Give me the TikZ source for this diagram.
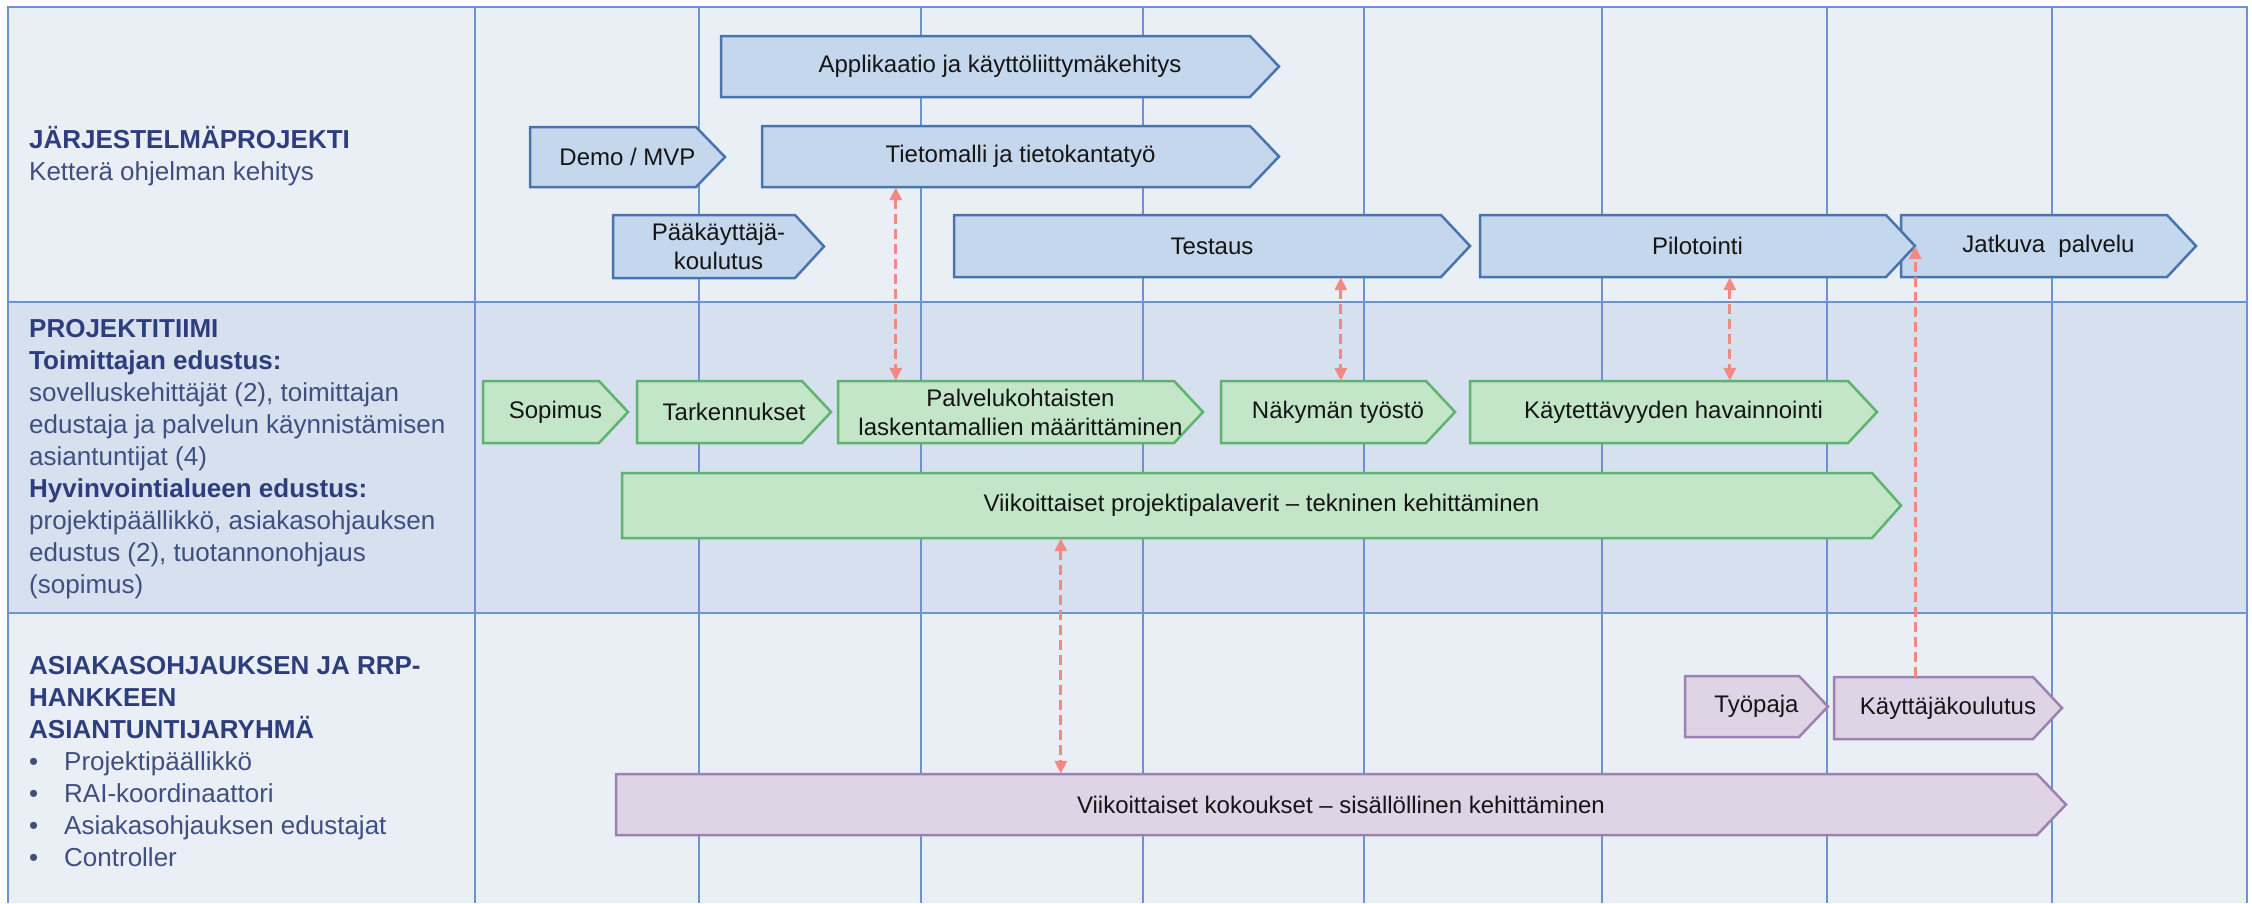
\documentclass[tikz,border=0pt]{standalone}
\usepackage{fontspec}
\setmainfont{Liberation Sans}
\usetikzlibrary{arrows.meta,calc}

\definecolor{rowlight}{HTML}{EAEFF6}
\definecolor{rowdark}{HTML}{D6E0EE}
\definecolor{gridblue}{HTML}{6B94CE}
\definecolor{bluefill}{HTML}{C5D7EC}
\definecolor{blueline}{HTML}{4A74AE}
\definecolor{greenfill}{HTML}{C3E6C8}
\definecolor{greenline}{HTML}{5EB46F}
\definecolor{purplefill}{HTML}{DFD3E6}
\definecolor{purpleline}{HTML}{9C82B2}
\definecolor{linkred}{HTML}{F28A84}
\definecolor{headtext}{HTML}{2E3E7D}
\definecolor{bodytext}{HTML}{3F4F80}
\definecolor{chevink}{HTML}{151515}

\tikzset{
  gridline/.style={draw=gridblue, line width=2.2pt},
  bluechev/.style={fill=bluefill, draw=blueline, line width=2.5pt, line join=miter},
  greenchev/.style={fill=greenfill, draw=greenline, line width=2.5pt, line join=miter},
  purplechev/.style={fill=purplefill, draw=purpleline, line width=2.5pt, line join=miter},
  chevtext/.style={inner sep=0pt, align=center, font=\fontsize{24}{29}\selectfont, text=chevink},
  lefttext/.style={anchor=west, align=left, inner sep=0pt, font=\fontsize{26}{32}\selectfont, text=bodytext},
  link/.style={draw=linkred, line width=3pt, dash pattern=on 10pt off 5pt,
    {Triangle[length=13pt,width=12pt]}-{Triangle[length=13pt,width=12pt]}},
  uplink/.style={draw=linkred, line width=3pt, dash pattern=on 10pt off 5pt,
    -{Triangle[length=13pt,width=12pt]}},
}

% style, name, left x, tip x, top y, bottom y, text
\newcommand{\chevshape}[7]{%
  \draw[#1] (#3,#5) -- ({#4-29},#5) -- (#4,{(#5+#6)/2}) -- ({#4-29},#6) -- (#3,#6) -- cycle;
  \node[chevtext, minimum width={(#4)-(#3)}, minimum height={(#6)-(#5)}] (#2) at ({(#3+#4)/2},{(#5+#6)/2}) {#7};
}

\begin{document}
\begin{tikzpicture}[x=1pt,y=-1pt]
\useasboundingbox (0,0) rectangle (2252,903);
\fill[white] (0,0) rectangle (2252,903);

% rows
\fill[rowlight] (8,7) rectangle (2247,302);
\fill[rowdark] (8,302) rectangle (2247,613);
\fill[rowlight] (8,613) rectangle (2247,903);

% grid
\foreach \gx in {475,699,921,1143,1364,1602,1827,2052}
  \draw[gridline] (\gx,7) -- (\gx,903);
\draw[gridline] (8,903) -- (8,7) -- (2247,7) -- (2247,903);
\draw[gridline] (8,302) -- (2247,302);
\draw[gridline] (8,613) -- (2247,613);

% left column texts
\node[lefttext] (sys) at (29,156) {{\bfseries\color{headtext}JÄRJESTELMÄPROJEKTI}\\Ketterä ohjelman kehitys};
\node[lefttext] (team) at (29,459) {{\bfseries\color{headtext}PROJEKTITIIMI}\\
  {\bfseries\color{headtext}Toimittajan edustus:}\\
  sovelluskehittäjät (2), toimittajan\\
  edustaja ja palvelun käynnistämisen\\
  asiantuntijat (4)\\
  {\bfseries\color{headtext}Hyvinvointialueen edustus:}\\
  projektipäällikkö, asiakasohjauksen\\
  edustus (2), tuotannonohjaus\\
  (sopimus)};
\node[lefttext] (expert) at (29,762) {{\bfseries\color{headtext}ASIAKASOHJAUKSEN JA RRP-}\\
  {\bfseries\color{headtext}HANKKEEN}\\
  {\bfseries\color{headtext}ASIANTUNTIJARYHMÄ}\\
  \makebox[35pt][l]{\textbullet}Projektipäällikkö\\
  \makebox[35pt][l]{\textbullet}RAI-koordinaattori\\
  \makebox[35pt][l]{\textbullet}Asiakasohjauksen edustajat\\
  \makebox[35pt][l]{\textbullet}Controller};

% row 1 chevrons
\chevshape{bluechev}{app}{721}{1279}{36}{97}{Applikaatio ja käyttöliittymäkehitys}
\chevshape{bluechev}{demo}{530}{725}{127}{187}{Demo / MVP}
\chevshape{bluechev}{tieto}{762}{1279}{126}{187}{Tietomalli ja tietokantatyö}
\chevshape{bluechev}{paak}{613}{824}{215}{278}{Pääkäyttäjä-\\koulutus}
\chevshape{bluechev}{test}{954}{1470}{215}{277}{Testaus}
\chevshape{bluechev}{jatk}{1901}{2196}{215}{277}{Jatkuva\ \ palvelu}
\chevshape{bluechev}{pilot}{1480}{1915}{215}{277}{Pilotointi}

% row 2 chevrons
\chevshape{greenchev}{sop}{483}{628}{381}{443}{Sopimus}
\chevshape{greenchev}{tark}{637}{831}{381}{443}{Tarkennukset}
\chevshape{greenchev}{palv}{838}{1203}{381}{443}{Palvelukohtaisten\\laskentamallien määrittäminen}
\chevshape{greenchev}{naky}{1221}{1455}{381}{443}{Näkymän työstö}
\chevshape{greenchev}{kayt}{1470}{1877}{381}{443}{Käytettävyyden havainnointi}
\chevshape{greenchev}{viikp}{622}{1901}{473}{538}{Viikoittaiset projektipalaverit – tekninen kehittäminen}

% row 3 chevrons
\chevshape{purplechev}{tyop}{1685}{1828}{676}{737}{Työpaja}
\chevshape{purplechev}{kaytk}{1834}{2062}{677}{739}{Käyttäjäkoulutus}
\chevshape{purplechev}{viikk}{616}{2066}{774}{835}{Viikoittaiset kokoukset – sisällöllinen kehittäminen}

% links
\coordinate (a1) at ([xshift=58pt]palv.north west);
\draw[link] (a1 |- tieto.south) -- (a1);
\coordinate (a2) at ([xshift=120pt]naky.north west);
\draw[link] (a2 |- test.south) -- (a2);
\coordinate (a3) at ([xshift=260pt]kayt.north west);
\draw[link] (a3 |- pilot.south) -- (a3);
\coordinate (a4) at (kaytk.north -| pilot.east);
\draw[uplink] (a4) -- (pilot.east);
\coordinate (a5) at ([xshift=439pt]viikp.south west);
\draw[link] (a5) -- (a5 |- viikk.north);
\end{tikzpicture}
\end{document}
